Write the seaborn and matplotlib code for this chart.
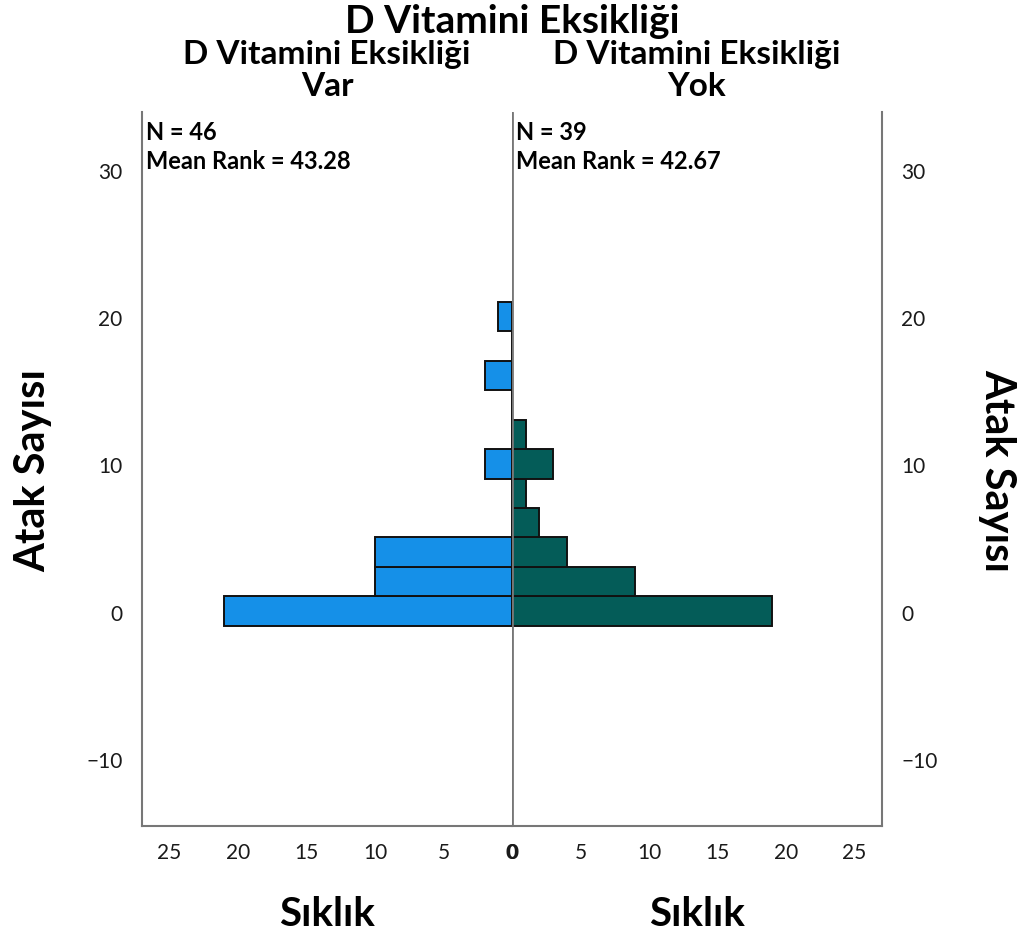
import numpy as np
import pandas as pd
import matplotlib
matplotlib.use("Agg")
import matplotlib.pyplot as plt
import seaborn as sns

# Histogram bins of "Atak Sayısı" (lower edge of each bin, width 2)
bin_starts = [-0.9, 1.1, 3.1, 5.1, 7.1, 9.1, 11.1, 13.1, 15.1, 17.1, 19.1]
bin_width = 2.0
# Frequencies per bin for each group
counts_var = [21, 10, 10, 0, 0, 2, 0, 0, 2, 0, 1]
counts_yok = [19, 9, 4, 2, 1, 3, 1, 0, 0, 0, 0]
group_n = [46, 39]
mean_rank = [43.28, 42.67]
group_labels = ["D Vitamini Eksikliği\nVar", "D Vitamini Eksikliği\nYok"]
x_ticks = [0, 5, 10, 15, 20, 25]
y_ticks = [-10, 0, 10, 20, 30]

sns.set_theme(style="white")
plt.rcParams["font.family"] = ["Lato", "DejaVu Sans"]
plt.rcParams["text.color"] = "black"

edges = list(bin_starts) + [bin_starts[-1] + bin_width]
centers = [b + bin_width / 2 for b in bin_starts]
df = pd.DataFrame({"center": centers, "Var": counts_var, "Yok": counts_yok})

fig = plt.figure(figsize=(10.33, 9.42), dpi=100)
ax_l = fig.add_axes([0.1375, 0.1231, 0.3582, 0.758])
ax_r = fig.add_axes([0.4956, 0.1231, 0.3582, 0.758])

def fmt(v):
    return str(v).replace("-", "\u2212")

colors = ["#1590e8", "#045c58"]
for ax, col, color in [(ax_l, "Var", colors[0]), (ax_r, "Yok", colors[1])]:
    sub = df[df[col] > 0]
    sns.histplot(data=sub, y="center", weights=col, bins=edges, ax=ax,
                 color=color, alpha=1.0, edgecolor="#111111", linewidth=1.4)
    ax.set_ylim(-14.5, 34)
    ax.set_xlim(0, 27)
    ax.set_xticks(x_ticks)
    ax.set_xticklabels([fmt(t) for t in x_ticks], fontsize=15, color="#1a1a1a")
    ax.set_yticks(y_ticks)
    ax.set_ylabel("")
    ax.set_xlabel("Sıklık", fontsize=29, fontweight="bold", labelpad=24,
                  color="black")
    ax.tick_params(axis="both", length=0, pad=12)
    for s in ax.spines.values():
        s.set_color("#777777")
        s.set_linewidth(1.5)
    ax.spines["top"].set_visible(False)

ax_l.invert_xaxis()
ax_l.spines["right"].set_visible(False)
ax_r.spines["left"].set_visible(False)
ax_l.set_yticklabels([fmt(t) for t in y_ticks], fontsize=15, color="#1a1a1a")
ax_l.tick_params(axis="y", pad=14)
ax_r.yaxis.tick_right()
ax_r.set_yticklabels([fmt(t) for t in y_ticks], fontsize=15, color="#1a1a1a")
ax_r.tick_params(axis="y", pad=14, labelright=True, labelleft=False)
ax_l.get_xticklabels()[0].set_fontweight("bold")
ax_r.get_xticklabels()[0].set_fontweight("bold")

# Shared centre line
ax_r.axvline(0, color="#777777", lw=2, zorder=5)

# Vertical axis titles
fig.text(0.032, 0.501, "Atak Sayısı", rotation=90, fontsize=30, fontweight="bold",
         ha="center", va="center")
fig.text(0.965, 0.501, "Atak Sayısı", rotation=-90, fontsize=30, fontweight="bold",
         ha="center", va="center")

# Group annotations
for ax, n, mr in [(ax_l, group_n[0], mean_rank[0]), (ax_r, group_n[1], mean_rank[1])]:
    ax.text(0.012, 0.987, f"N = {n}\nMean Rank = {mr:.2f}", transform=ax.transAxes,
            ha="left", va="top", fontsize=17, fontweight="bold", linespacing=1.3)

# Titles
fig.text(0.4956, 0.977, "D Vitamini Eksikliği", ha="center", va="center",
         fontsize=28, fontweight="bold")
fig.text(0.3166, 0.925, group_labels[0], ha="center", va="center",
         fontsize=24, fontweight="bold", linespacing=1.1)
fig.text(0.6747, 0.925, group_labels[1], ha="center", va="center",
         fontsize=24, fontweight="bold", linespacing=1.1)

fig.savefig("out.png", dpi=100)
